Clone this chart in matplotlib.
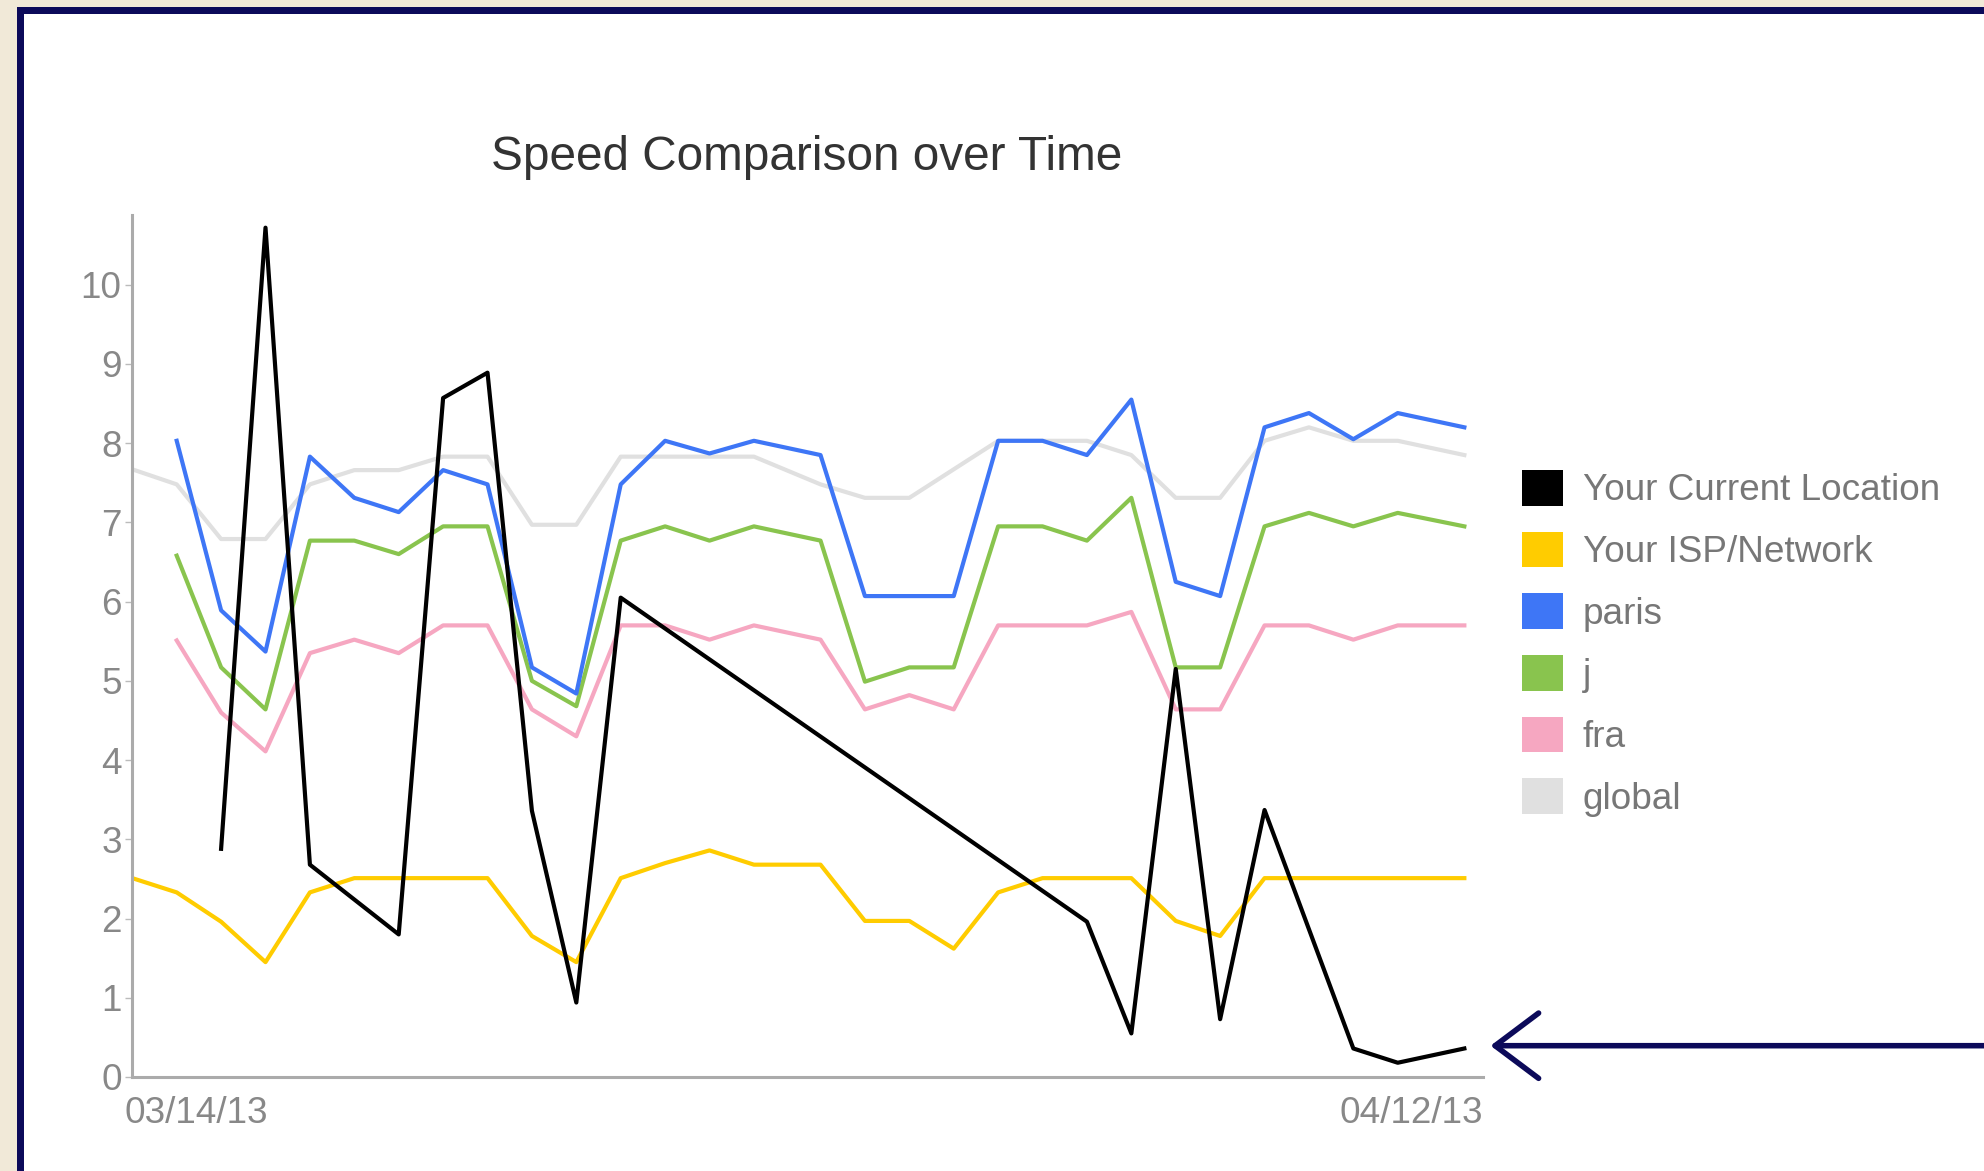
import numpy as np
import matplotlib
matplotlib.use('Agg')
from matplotlib import pyplot as plt
from matplotlib.patches import Patch, Rectangle
from matplotlib.transforms import ScaledTranslation

plt.rcParams['font.family'] = ['Liberation Sans', 'DejaVu Sans']

# day offsets of the samples (03/14/13 = 0)
days = [0, 1, 2, 3, 4, 5, 6, 7, 8, 9, 10, 11, 12, 13, 14,
        15.5, 16.5, 17.5, 18.5, 19.5, 20.5, 21.5, 22.5, 23.5, 24.5,
        25.5, 26.5, 27.5, 28.5, 30]

current = [None, None, 2.88, 10.72, 2.68, None, 1.80, 8.57, 8.89, 3.36,
           0.94, 6.05, None, None, None, None, None, None, None, None,
           None, 1.96, 0.55, 5.15, 0.73, 3.37, None, 0.36, 0.18, 0.36]
isp = [2.51, 2.33, 1.96, 1.45, 2.33, 2.51, 2.51, 2.51, 2.51, 1.78,
       1.45, 2.51, 2.70, 2.86, 2.68, 2.68, 1.97, 1.97, 1.62, 2.33,
       2.51, 2.51, 2.51, 1.97, 1.78, 2.51, 2.51, 2.51, 2.51, 2.51]
paris = [None, 8.03, 5.89, 5.37, 7.83, 7.31, 7.13, 7.66, 7.48, 5.17,
         4.84, 7.48, 8.03, 7.87, 8.03, 7.85, 6.07, 6.07, 6.07, 8.03,
         8.03, 7.85, 8.55, 6.25, 6.07, 8.20, 8.38, 8.05, 8.38, 8.20]
j = [None, 6.58, 5.17, 4.64, 6.77, 6.77, 6.60, 6.95, 6.95, 5.00,
     4.68, 6.77, 6.95, 6.77, 6.95, 6.77, 4.99, 5.17, 5.17, 6.95,
     6.95, 6.77, 7.31, 5.17, 5.17, 6.95, 7.12, 6.95, 7.12, 6.95]
fra = [None, 5.51, 4.60, 4.11, 5.35, 5.52, 5.35, 5.70, 5.70, 4.64,
       4.30, 5.70, 5.70, 5.52, 5.70, 5.52, 4.64, 4.82, 4.64, 5.70,
       5.70, 5.70, 5.87, 4.64, 4.64, 5.70, 5.70, 5.52, 5.70, 5.70]
glob = [7.67, 7.48, 6.79, 6.79, 7.48, 7.66, 7.66, 7.83, 7.83, 6.97,
        6.97, 7.83, 7.83, 7.83, 7.83, 7.48, 7.31, 7.31, 7.67, 8.03,
        8.03, 8.03, 7.85, 7.31, 7.31, 8.03, 8.20, 8.03, 8.03, 7.85]

labels = ['Your Current Location', 'Your ISP/Network', 'paris', 'j', 'fra', 'global']
series = [current, isp, paris, j, fra, glob]
colors = ['#000000', '#FFCC00', '#3E76F6', '#89C44E', '#F6A7C1', '#E0E0E0']
date_labels = ['03/14/13', '04/12/13']

W, H = 1984, 1171
navy = '#0C0A5A'

fig = plt.figure(figsize=(W / 100, H / 100), dpi=100, facecolor='#F1E9D8')
fig.patches.append(Rectangle((17 / W, 0), 1, 1 - 7 / H, transform=fig.transFigure,
                             facecolor=navy, edgecolor='none', zorder=-2))
fig.patches.append(Rectangle((24 / W, 0), 1, 1 - 14 / H, transform=fig.transFigure,
                             facecolor='white', edgecolor='none', zorder=-1))

ax = fig.add_axes([132.3 / W, (H - 1077) / H, (1483 - 132.3) / W, (1077 - 215) / H])
ax.patch.set_alpha(0)
xmax = 30.42
ax.set_xlim(0, xmax)
ax.set_ylim(0, 10.88)

x = np.array(days, dtype=float)
# draw global first, current location on top
for vals, c in reversed(list(zip(series, colors))):
    y = np.array([np.nan if v is None else v for v in vals], dtype=float)
    m = ~np.isnan(y)
    ax.plot(x[m], y[m], color=c, lw=3.0, solid_joinstyle='round')

for s in ['top', 'right']:
    ax.spines[s].set_visible(False)
for s in ['left', 'bottom']:
    ax.spines[s].set_color('#ABABAB')
    ax.spines[s].set_linewidth(2.2)

ax.set_yticks(range(11))
ax.tick_params(axis='y', length=4.8, width=1, color='#BBBBBB', pad=2.8,
               labelsize=26.6, labelcolor='#888888')
ax.set_xticks([0, xmax])
ax.set_xticklabels(date_labels)
ax.tick_params(axis='x', length=0, pad=13.5, labelsize=26.6, labelcolor='#888888')
xl = ax.get_xticklabels()
xl[0].set_horizontalalignment('left')
xl[0].set_transform(xl[0].get_transform() + ScaledTranslation(-0.08, 0, fig.dpi_scale_trans))
xl[1].set_horizontalalignment('right')

fig.text(491 / W, 1 - 170.5 / H, 'Speed Comparison over Time', fontsize=34.4,
         color='#333333', ha='left', va='baseline')

handles = [Patch(facecolor=c, edgecolor='none', label=l) for l, c in zip(labels, colors)]
fig.legend(handles=handles, loc='upper left', bbox_to_anchor=(1522 / W, 1 - 470 / H),
           frameon=False, fontsize=26.6, handlelength=41 / 37, handleheight=41 / 37,
           handletextpad=20 / 37, labelspacing=0.63, borderpad=0, borderaxespad=0,
           labelcolor='#777777')

ax.annotate('', xy=(1490.5, H - 1045.7), xycoords='figure pixels',
            xytext=(W + 20, H - 1045.7), textcoords='figure pixels',
            arrowprops=dict(arrowstyle='->,head_length=3.13,head_width=2.35',
                            mutation_scale=10, lw=4, color=navy,
                            shrinkA=0, shrinkB=0, capstyle='round'),
            annotation_clip=False)

fig.savefig('out.png', dpi=100, facecolor=fig.get_facecolor())
